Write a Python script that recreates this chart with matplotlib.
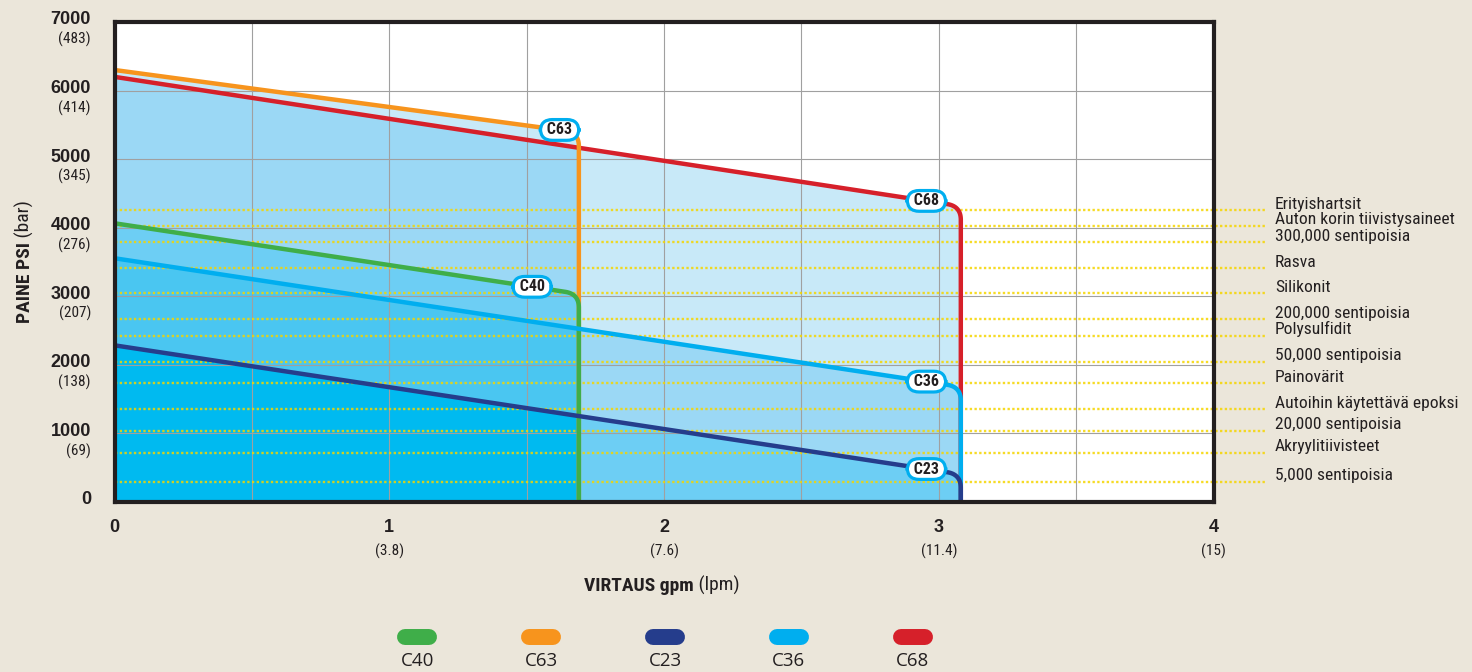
import numpy as np
import matplotlib
matplotlib.use('Agg')
import matplotlib.pyplot as plt
from matplotlib import font_manager
from matplotlib.lines import Line2D
from matplotlib.colors import ListedColormap

# ---------------- data ----------------
series = ['C40', 'C63', 'C23', 'C36', 'C68']
series_colors = ['#3fae49', '#f7941d', '#253d8c', '#00aeef', '#d6202a']
psi_at_zero = [4065, 6300, 2285, 3555, 6200]
knee_flow = [1.64, 1.64, 3.03, 3.03, 3.03]
knee_psi = [3065, 5415, 435, 1710, 4345]
max_flow = [1.69, 1.69, 3.08, 3.08, 3.08]
tag_flow = [1.52, 1.62, 2.955, 2.955, 2.955]

y_ticks_psi = [0, 1000, 2000, 3000, 4000, 5000, 6000, 7000]
y_ticks_bar = ['', '(69)', '(138)', '(207)', '(276)', '(345)', '(414)', '(483)']
x_ticks_gpm = [0, 1, 2, 3, 4]
x_ticks_lpm = ['', '(3.8)', '(7.6)', '(11.4)', '(15)']

material_psi = [4255, 4030, 3790, 3410, 3045, 2670, 2425, 2045, 1730, 1350, 1040, 720, 295]
material_labels = ['Erityishartsit', 'Auton korin tiivistysaineet', '300,000 sentipoisia',
                   'Rasva', 'Silikonit', '200,000 sentipoisia', 'Polysulfidit',
                   '50,000 sentipoisia', 'Painovärit', 'Autoihin käytettävä epoksi',
                   '20,000 sentipoisia', 'Akryylitiivisteet', '5,000 sentipoisia']

# ---------------- fonts ----------------
def pick(cands):
    for c in cands:
        try:
            font_manager.findfont(font_manager.FontProperties(family=c), fallback_to_default=False)
            return c
        except Exception:
            pass
    return 'DejaVu Sans'

NARROW = pick(['Liberation Sans Narrow', 'Roboto Condensed', 'Liberation Sans'])
SANS = pick(['Liberation Sans', 'Arial', 'DejaVu Sans'])
LEG = pick(['Open Sans', 'Lato', 'DejaVu Sans'])

DARK = '#231f20'
BG = '#ebe6da'
fill_colors = ['#ffffff', '#c8e9f8', '#9bd8f5', '#6dcef4', '#4ac6f1', '#00baf0']

W, H = 1472, 672
fig = plt.figure(figsize=(W / 100, H / 100), dpi=100, facecolor=BG)
ax = fig.add_axes([114.5 / W, 1 - 502 / H, (1213.6 - 114.5) / W, (502 - 22) / H])
ax.set_xlim(0, 4)
ax.set_ylim(0, 7000)

corner_drop = 200.0

def curve(i, n_arc=40):
    y0 = psi_at_zero[i]
    xk, yk = knee_flow[i], knee_psi[i]
    xv = max_flow[i]
    slope = (yk - y0) / xk
    yc = yk + slope * (xv - xk)
    ye = yc - corner_drop
    t = np.linspace(0, 1, n_arc)
    bx = (1 - t) ** 2 * xk + 2 * t * (1 - t) * xv + t ** 2 * xv
    by = (1 - t) ** 2 * yk + 2 * t * (1 - t) * yc + t ** 2 * ye
    top_x = np.concatenate([[0.0], bx])
    top_y = np.concatenate([[y0], by])
    return top_x, top_y, xv

# layered fill via count of curves covering each point
gx = np.linspace(0, 4, 2400)
gy = np.linspace(0, 7000, 1400)
count = np.zeros((gy.size, gx.size))
for i in range(len(series)):
    tx, ty, xv = curve(i)
    top = np.interp(gx, tx, ty)
    top[gx > xv] = -1
    count += (gy[:, None] <= top[None, :])
ax.imshow(count, extent=[0, 4, 0, 7000], origin='lower', aspect='auto',
          cmap=ListedColormap(fill_colors), vmin=-0.5, vmax=5.5,
          interpolation='nearest', zorder=0)

# grid
ax.set_xticks(np.arange(0, 4.01, 0.5))
ax.set_yticks(y_ticks_psi)
ax.grid(True, color='#a0a0a0', lw=0.8)
ax.tick_params(length=0, labelbottom=False, labelleft=False)
for s in ax.spines.values():
    s.set_color(DARK)
    s.set_linewidth(3.0)
    s.set_zorder(20)

# dotted material lines and labels
for p, lab in zip(material_psi, material_labels):
    ax.plot([0, 4.187], [p, p], ls=(0, (1, 1)), lw=1.7, color='#f5d500', alpha=0.85,
            clip_on=False, zorder=2)
    ax.annotate(lab, xy=(4.223, p), xytext=(0, 1), textcoords='offset points',
                ha='left', va='baseline', fontsize=12.6, family=NARROW, color=DARK,
                annotation_clip=False)

# curves
draw_order = [4, 1, 0, 3, 2]
for z, i in enumerate(draw_order):
    tx, ty, xv = curve(i)
    xs = np.concatenate([tx, [xv]])
    ys = np.concatenate([ty, [0]])
    ax.plot(xs, ys, color=series_colors[i], lw=3.2, solid_capstyle='butt',
            solid_joinstyle='round', zorder=3 + z * 0.1)

# callout tags
for i, name in enumerate(series):
    tx, ty, xv = curve(i)
    yv = np.interp(tag_flow[i], tx, ty)
    ax.text(tag_flow[i], yv, ' ' + name + ' ', ha='center', va='center', fontsize=11.5,
            fontweight='bold', family=NARROW, color=DARK, zorder=10,
            bbox=dict(boxstyle='round,pad=0.18,rounding_size=0.75', fc='white',
                      ec='#00aeef', lw=2.3))

# tick labels
for v, b in zip(y_ticks_psi, y_ticks_bar):
    ax.annotate(str(v), xy=(0, v), xycoords=('axes fraction', 'data'),
                xytext=(-17, 1.5), textcoords='offset points', ha='right', va='center',
                fontsize=13, fontweight='bold', family=SANS, color=DARK,
                annotation_clip=False)
    if b:
        ax.annotate(b, xy=(0, v), xycoords=('axes fraction', 'data'),
                    xytext=(-17, -12.6), textcoords='offset points', ha='right',
                    va='center', fontsize=11, family=NARROW, color=DARK,
                    annotation_clip=False)
for v, b in zip(x_ticks_gpm, x_ticks_lpm):
    ax.annotate(str(v), xy=(v, 0), xycoords=('data', 'axes fraction'),
                xytext=(0, -18.7), textcoords='offset points', ha='center', va='center',
                fontsize=13, fontweight='bold', family=SANS, color=DARK,
                annotation_clip=False)
    if b:
        ax.annotate(b, xy=(v, 0), xycoords=('data', 'axes fraction'),
                    xytext=(0, -35.5), textcoords='offset points', ha='center',
                    va='center', fontsize=11, family=NARROW, color=DARK,
                    annotation_clip=False)

# axis titles (bold + regular parts)
fig.canvas.draw()
r = fig.canvas.get_renderer()

xb = fig.text(0, 0, 'VIRTAUS gpm', fontsize=14, fontweight='bold', family=NARROW, color=DARK)
xr = fig.text(0, 0, ' (lpm)', fontsize=14, family=NARROW, color=DARK)
w1 = xb.get_window_extent(r).width
w2 = xr.get_window_extent(r).width
cx = 662.0
x0 = cx - (w1 + w2) / 2
xb.set_position((x0 / W, 1 - 591 / H))
xr.set_position(((x0 + w1) / W, 1 - 591 / H))
for t in (xb, xr):
    t.set_va('baseline')
    t.set_ha('left')

yb = fig.text(0, 0, 'PAINE PSI', fontsize=14, fontweight='bold', family=NARROW, color=DARK,
              rotation=90, rotation_mode='anchor', ha='left', va='baseline')
yr = fig.text(0, 0, ' (bar)', fontsize=14, family=NARROW, color=DARK,
              rotation=90, rotation_mode='anchor', ha='left', va='baseline')
h1 = yb.get_window_extent(r).height
h2 = yr.get_window_extent(r).height
cy = 262.0
ystart = cy + (h1 + h2) / 2
yb.set_position((30 / W, 1 - ystart / H))
yr.set_position((30 / W, 1 - (ystart - h1) / H))

# legend
leg_cx = 665.0
leg_dx = 123.8
for k, (name, col) in enumerate(zip(series, series_colors)):
    xc = leg_cx + (k - 2) * leg_dx
    fig.add_artist(Line2D([(xc - 12) / W, (xc + 12) / W], [1 - 637 / H, 1 - 637 / H],
                          transform=fig.transFigure, color=col, lw=11.5,
                          solid_capstyle='round'))
    fig.text(xc / W, 1 - 661 / H, name, ha='center', va='center', fontsize=13.5,
             family=LEG, color=DARK)

fig.savefig('out.png', dpi=100, facecolor=BG)
